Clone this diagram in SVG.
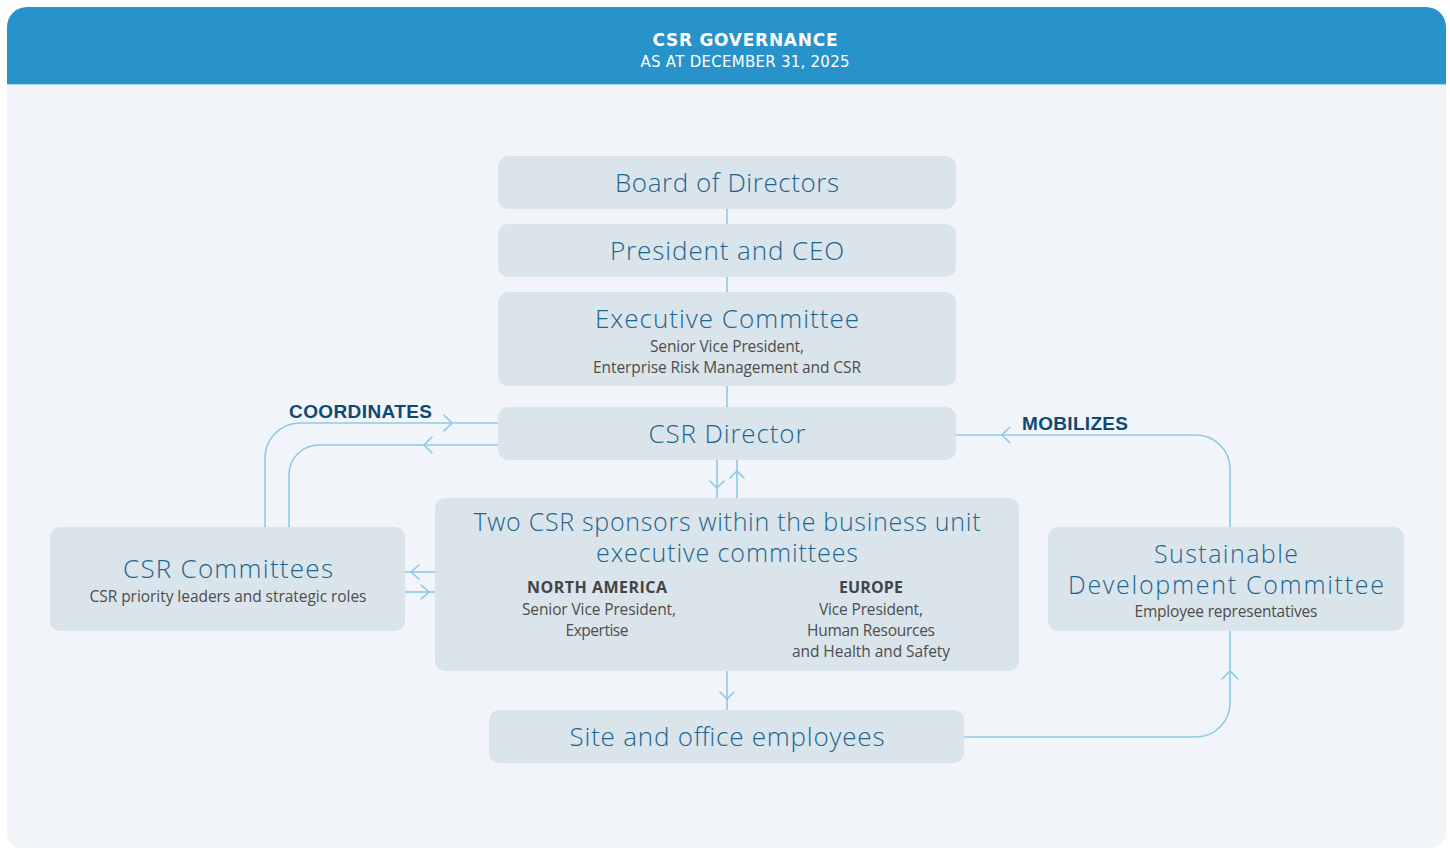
<svg xmlns="http://www.w3.org/2000/svg" width="1450" height="849" viewBox="0 0 1450 849">
  <style>
    .panel { fill: #f1f5f9; }
    .banner { fill: #2892cb; }
    .box { fill: #dae4eb; }
    .h1 { font-family: "DejaVu Sans", "Open Sans", sans-serif; font-weight: 700; font-size: 17px; fill: #ffffff; text-anchor: middle; }
    .h2 { font-family: "DejaVu Sans", "Open Sans", sans-serif; font-weight: 400; font-size: 15px; fill: #ffffff; text-anchor: middle; }
    .title { font-family: "Open Sans", "Noto Sans", sans-serif; font-weight: 300; font-size: 26px; fill: #1e6590; text-anchor: middle; }
    .title2 { font-size: 25px; }
    .sub { font-family: "Open Sans", "Noto Sans", sans-serif; font-weight: 400; font-size: 15.5px; fill: #4d4d4d; text-anchor: middle; }
    .region { font-family: "Open Sans", "Noto Sans", sans-serif; font-weight: 700; font-size: 16px; fill: #444444; text-anchor: middle; }
    .tag { font-family: "Liberation Sans", Arial, sans-serif; font-weight: 700; font-size: 19px; fill: #0d4a73; }
    .link { fill: none; stroke: #8ecae6; stroke-width: 1.6; }
    .head { fill: none; stroke: #8ecae6; stroke-width: 1.6; stroke-linecap: round; }
  </style>

  <!-- background panel and banner -->
  <path class="panel" d="M7,84 H1446 V833 A15,15 0 0 1 1431,848 H22 A15,15 0 0 1 7,833 Z"/>
  <path class="banner" d="M7,84 V27 A20,20 0 0 1 27,7 H1426 A20,20 0 0 1 1446,27 V84 Z"/>
  <line x1="7" y1="84.5" x2="1446" y2="84.5" stroke="#a9d3ec" stroke-width="1"/>
  <text class="h1" x="745" y="46" textLength="185">CSR GOVERNANCE</text>
  <text class="h2" x="745" y="67" textLength="209">AS AT DECEMBER 31, 2025</text>

  <!-- connectors -->
  <g id="connectors">
    <!-- vertical chain -->
    <line class="link" x1="727" y1="209" x2="727" y2="224"/>
    <line class="link" x1="727" y1="277" x2="727" y2="292"/>
    <line class="link" x1="727" y1="386" x2="727" y2="407"/>

    <!-- CSR Director <-> sponsors -->
    <line class="link" x1="717" y1="460" x2="717" y2="498"/>
    <polyline class="head" points="710,481 717,488 724,481"/>
    <line class="link" x1="737" y1="460" x2="737" y2="498"/>
    <polyline class="head" points="730,478 737,471 744,478"/>

    <!-- coordinates loop -->
    <path class="link" d="M498,423 H300 A35,35 0 0 0 265,458 V527"/>
    <polyline class="head" points="444,415 452,423 444,431"/>
    <path class="link" d="M498,445 H319 A30,30 0 0 0 289,475 V527"/>
    <polyline class="head" points="432,437 424,445 432,453"/>

    <!-- sponsors <-> CSR committees -->
    <line class="link" x1="405" y1="572" x2="435" y2="572"/>
    <polyline class="head" points="419,565 411,572 419,579"/>
    <line class="link" x1="405" y1="592" x2="435" y2="592"/>
    <polyline class="head" points="421,585 429,592 421,599"/>

    <!-- sponsors -> site employees -->
    <line class="link" x1="727" y1="671" x2="727" y2="710"/>
    <polyline class="head" points="720,692 727,699 734,692"/>

    <!-- site employees -> sustainable development committee -->
    <path class="link" d="M964,737 H1196 A34,34 0 0 0 1230,703 V631"/>
    <polyline class="head" points="1222,679 1230,671 1238,679"/>

    <!-- mobilizes loop -->
    <path class="link" d="M956,435 H1196 A34,34 0 0 1 1230,469 V527"/>
    <polyline class="head" points="1010,427 1002,435 1010,443"/>

    <text class="tag" x="289" y="418" textLength="143">COORDINATES</text>
    <text class="tag" x="1022" y="430" textLength="106">MOBILIZES</text>
  </g>

  <g id="board">
    <rect class="box" x="498" y="156" width="458" height="53" rx="10"/>
    <text class="title" x="727" y="192" textLength="224">Board of Directors</text>
  </g>

  <g id="ceo">
    <rect class="box" x="498" y="224" width="458" height="53" rx="10"/>
    <text class="title" x="727" y="260" textLength="234">President and CEO</text>
  </g>

  <g id="executive-committee">
    <rect class="box" x="498" y="292" width="458" height="94" rx="10"/>
    <text class="title" x="727" y="328" textLength="264">Executive Committee</text>
    <text class="sub" x="727" y="352" textLength="154">Senior Vice President,</text>
    <text class="sub" x="727" y="373" textLength="268">Enterprise Risk Management and CSR</text>
  </g>

  <g id="csr-director">
    <rect class="box" x="498" y="407" width="458" height="53" rx="10"/>
    <text class="title" x="727" y="443" textLength="157">CSR Director</text>
  </g>

  <g id="sponsors">
    <rect class="box" x="435" y="498" width="584" height="173" rx="10"/>
    <text class="title title2" x="727" y="531" textLength="507">Two CSR sponsors within the business unit</text>
    <text class="title title2" x="727" y="562" textLength="262">executive committees</text>
    <text class="region" x="597" y="593" textLength="140">NORTH AMERICA</text>
    <text class="sub" x="599" y="615" textLength="154">Senior Vice President,</text>
    <text class="sub" x="597" y="636" textLength="63">Expertise</text>
    <text class="region" x="871" y="593" textLength="64">EUROPE</text>
    <text class="sub" x="871" y="615" textLength="104">Vice President,</text>
    <text class="sub" x="871" y="636" textLength="128">Human Resources</text>
    <text class="sub" x="871" y="657" textLength="158">and Health and Safety</text>
  </g>

  <g id="csr-committees">
    <rect class="box" x="50" y="527" width="355" height="104" rx="10"/>
    <text class="title" x="228" y="578" textLength="210">CSR Committees</text>
    <text class="sub" x="228" y="602" textLength="277">CSR priority leaders and strategic roles</text>
  </g>

  <g id="sustainable-development-committee">
    <rect class="box" x="1048" y="527" width="356" height="104" rx="10"/>
    <text class="title title2" x="1226" y="563" textLength="144">Sustainable</text>
    <text class="title title2" x="1226" y="594" textLength="316">Development Committee</text>
    <text class="sub" x="1226" y="617" textLength="183">Employee representatives</text>
  </g>

  <g id="site-employees">
    <rect class="box" x="489" y="710" width="475" height="53" rx="10"/>
    <text class="title" x="727" y="746" textLength="315">Site and office employees</text>
  </g>
</svg>
